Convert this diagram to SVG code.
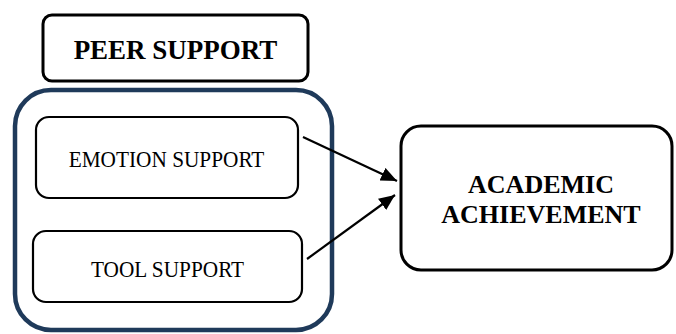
<svg xmlns="http://www.w3.org/2000/svg" width="676" height="334" viewBox="0 0 676 334">
  <style>
    .box { fill: #ffffff; stroke: #000000; stroke-width: 3; }
    .inner { fill: #ffffff; stroke: #000000; stroke-width: 2.2; }
    .outer { fill: none; stroke: #1F3A5A; stroke-width: 4.5; }
    .title { font-family: "Liberation Serif", "Times New Roman", serif; font-weight: bold; fill: #000; text-anchor: middle; }
    .label { font-family: "Liberation Serif", "Times New Roman", serif; fill: #000; text-anchor: middle; font-size: 21.3px; }
    .conn { stroke: #000; stroke-width: 2.2; fill: none; }
  </style>
  <defs>
    <marker id="arrow" markerUnits="userSpaceOnUse" markerWidth="18" markerHeight="16" refX="16" refY="7" orient="auto">
      <path d="M0,0 L16,7 L0,14 Z" fill="#000"/>
    </marker>
  </defs>
  <rect x="0" y="0" width="676" height="334" fill="#ffffff"/>

  <g id="peer-support">
    <rect class="box" x="43" y="15" width="265" height="66" rx="9"/>
    <text class="title" transform="translate(175.5,59) scale(1,1.04)" font-size="27">PEER SUPPORT</text>
  </g>

  <g id="peer-group">
    <rect class="outer" x="15" y="90" width="317" height="240" rx="36"/>
  </g>

  <g id="emotion-support">
    <rect class="inner" x="36" y="117" width="262" height="81" rx="13"/>
    <text class="label" transform="translate(166.5,167) scale(1,1.07)">EMOTION SUPPORT</text>
  </g>

  <g id="tool-support">
    <rect class="inner" x="33" y="231" width="269" height="71" rx="13"/>
    <text class="label" transform="translate(167.5,276.5) scale(1,1.12)">TOOL SUPPORT</text>
  </g>

  <g id="academic-achievement">
    <rect class="box" x="401" y="126" width="271" height="144" rx="20"/>
    <text class="title" x="541" y="193" font-size="26">ACADEMIC</text>
    <text class="title" x="541" y="223" font-size="26">ACHIEVEMENT</text>
  </g>

  <g id="connectors">
    <line class="conn" x1="303" y1="137" x2="397" y2="181" marker-end="url(#arrow)"/>
    <line class="conn" x1="307" y1="259" x2="395" y2="195" marker-end="url(#arrow)"/>
  </g>
</svg>
